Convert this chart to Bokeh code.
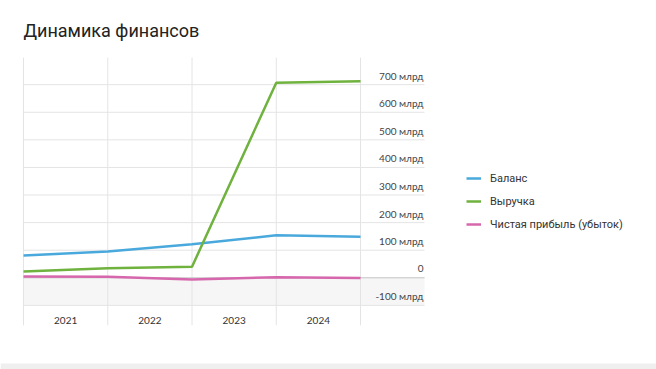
from bokeh.plotting import figure
from bokeh.models import (ColumnDataSource, Range1d, BoxAnnotation,
                          Legend, LegendItem, Label)
from bokeh.core.properties import value
from bokeh.embed import file_html
from bokeh.resources import INLINE

# ---- data (billions of rubles) ----
years = ["2021", "2022", "2023", "2024"]
points_x = [0, 1, 2, 3, 4]
balance = [81, 95, 122, 154, 149]
revenue = [23, 35, 40, 707, 712]
net_profit = [5, 4, -6, 2, -1]
y_ticks = [-100, 0, 100, 200, 300, 400, 500, 600, 700]
y_tick_labels = ["-100 млрд", "0", "100 млрд", "200 млрд", "300 млрд",
                 "400 млрд", "500 млрд", "600 млрд", "700 млрд"]

# plotting area extents (data units)
X_END = 4.76
Y_TOP, Y_BOTTOM = 798, -172

W, H = 656, 369
p = figure(width=W, height=H, output_backend="svg", toolbar_location=None,
           x_range=Range1d(-0.273, 7.513), y_range=Range1d(-332.4, 1005.1),
           min_border_left=0, min_border_right=0, min_border_top=0,
           min_border_bottom=0)
p.outline_line_color = None
p.xaxis.visible = False
p.yaxis.visible = False
p.xgrid.visible = False
p.ygrid.visible = False

# negative area shading
p.quad(left=[0], right=[X_END], bottom=[-100], top=[0], fill_color="#f6f6f6",
       line_color=None)

# grid lines
gx = [t for t in points_x]
p.segment(x0=gx, x1=gx, y0=[Y_BOTTOM] * len(gx), y1=[Y_TOP] * len(gx),
          line_color="#e4e4e4", line_width=1)
gy = [t for t in y_ticks if t != 0]
p.segment(x0=[0] * len(gy), x1=[X_END] * len(gy), y0=gy, y1=gy,
          line_color="#e4e4e4", line_width=1)
p.segment(x0=[0], x1=[X_END], y0=[0], y1=[0], line_color="#c4c4c4", line_width=1)

src = ColumnDataSource(dict(x=points_x, b=balance, r=revenue, n=net_profit))
rb = p.line("x", "b", source=src, line_color="#4aa9dc", line_width=2.5)
rr = p.line("x", "r", source=src, line_color="#6fb23e", line_width=2.5)
rn = p.line("x", "n", source=src, line_color="#d767ad", line_width=2.5)

# y tick labels (inside the right part of the grid)
ysrc = ColumnDataSource(dict(x=[X_END] * len(y_ticks), y=y_ticks, t=y_tick_labels))
p.text("x", "y", text="t", source=ysrc, text_align="right", text_baseline="middle",
       y_offset=-9, x_offset=-1, text_font=value("Lato"), text_font_size="10px",
       text_color="#444444")

# year labels centered in bands
xsrc = ColumnDataSource(dict(x=[i + 0.5 for i in range(len(years))],
                             y=[-155] * len(years), t=years))
p.text("x", "y", text="t", source=xsrc, text_align="center", text_baseline="middle",
       text_font=value("Lato"), text_font_size="10px", text_color="#333333")

# title
p.add_layout(Label(x=23, y=339, x_units="screen", y_units="screen",
                   text="Динамика финансов", text_font="Roboto",
                   text_font_size="18px", text_color="#222222",
                   text_baseline="alphabetic"))

# bottom grey strip of the page
p.add_layout(BoxAnnotation(left=0, right=656, top=6, bottom=0,
                           left_units="screen", right_units="screen",
                           top_units="screen", bottom_units="screen",
                           fill_color="#efefef", fill_alpha=1, line_color=None))

legend = Legend(items=[LegendItem(label="Баланс", renderers=[rb]),
                       LegendItem(label="Выручка", renderers=[rr]),
                       LegendItem(label="Чистая прибыль (убыток)", renderers=[rn])],
                location=(466, 137), orientation="vertical",
                border_line_color=None, background_fill_alpha=0,
                padding=0, margin=0, spacing=7, label_height=16, glyph_height=16,
                glyph_width=15, label_standoff=9,
                label_text_font="Roboto", label_text_font_size="11px",
                label_text_color="#333333")
p.add_layout(legend)

open("out.html", "w").write(file_html(p, INLINE))
